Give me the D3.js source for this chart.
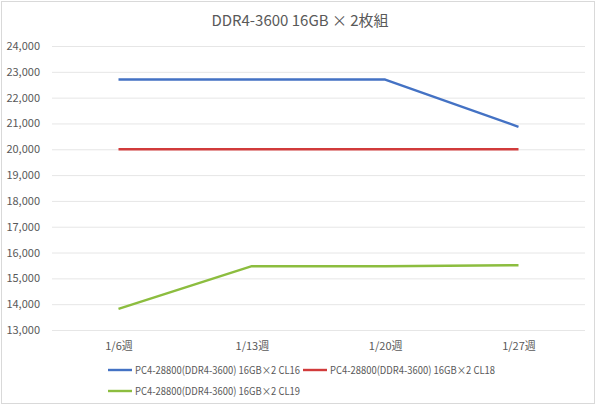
<!DOCTYPE html>
<html><head><meta charset="utf-8">
<script src="https://cdn.jsdelivr.net/npm/d3@7"></script>
<style>body{margin:0;background:#fff;}svg{display:block;}</style>
</head><body><svg id="c" width="599" height="407"></svg>
<script>
const title = "DDR4-3600 16GB × 2枚組";
const categories = ["1/6週","1/13週","1/20週","1/27週"];
const seriesNames = ["PC4-28800(DDR4-3600) 16GB×2 CL16","PC4-28800(DDR4-3600) 16GB×2 CL18","PC4-28800(DDR4-3600) 16GB×2 CL19"];
const cl16 = [22700,22700,22700,20870];
const cl18 = [20000,20000,20000,20000];
const cl19 = [13820,15470,15470,15510];
const yTicks = [13000,14000,15000,16000,17000,18000,19000,20000,21000,22000,23000,24000];
const colors = ["#4472c4","#d13b3b","#8cbd3f"];

const svg = d3.select("#c");
const font = "'Noto Sans CJK JP','Noto Sans',sans-serif";
svg.append("rect").attr("x",1.5).attr("y",1.5).attr("width",593).attr("height",402)
  .attr("fill","#fff").attr("stroke","#d9d9d9");

const x = d3.scalePoint().domain(categories).range([118.5,518.5]);
const y = d3.scaleLinear().domain([13000,24000]).range([330,46]);

svg.append("text").attr("x",300).attr("y",26).attr("text-anchor","middle")
  .attr("font-family",font).attr("font-size",15).attr("fill","#595959").text(title);

const yAxis = d3.axisLeft(y).tickValues(yTicks).tickSize(-533).tickFormat(d3.format(","));
const gy = svg.append("g").attr("transform","translate(52,0)").call(yAxis);
gy.select(".domain").remove();
gy.selectAll(".tick line").attr("stroke","#e6e6e6");
gy.selectAll(".tick text").attr("x",-12).attr("font-family",font).attr("font-size",11).attr("fill","#595959");

const xAxis = d3.axisBottom(x).tickSize(0);
const gx = svg.append("g").attr("transform","translate(0,330)").call(xAxis);
gx.select(".domain").remove();
gx.selectAll(".tick text").attr("dy",0).attr("y",20).attr("font-family",font).attr("font-size",11).attr("fill","#595959");

const line = d3.line().x((d,i)=>x(categories[i])).y(d=>y(d));
[cl16,cl18,cl19].forEach((s,i)=>{
  svg.append("path").datum(s).attr("d",line).attr("fill","none")
    .attr("stroke",colors[i]).attr("stroke-width",2.4).attr("stroke-linejoin","round");
});

const legendPos = [[108,370],[303,370],[108,391]];
seriesNames.forEach((n,i)=>{
  const [lx,ly] = legendPos[i];
  svg.append("line").attr("x1",lx).attr("x2",lx+24).attr("y1",ly).attr("y2",ly)
    .attr("stroke",colors[i]).attr("stroke-width",2.4);
  svg.append("text").attr("x",lx+27).attr("y",ly+4).attr("font-family",font)
    .attr("font-size",10.5).attr("fill","#595959")
    .attr("textLength",165).attr("lengthAdjust","spacingAndGlyphs").text(n);
});
</script></body></html>
